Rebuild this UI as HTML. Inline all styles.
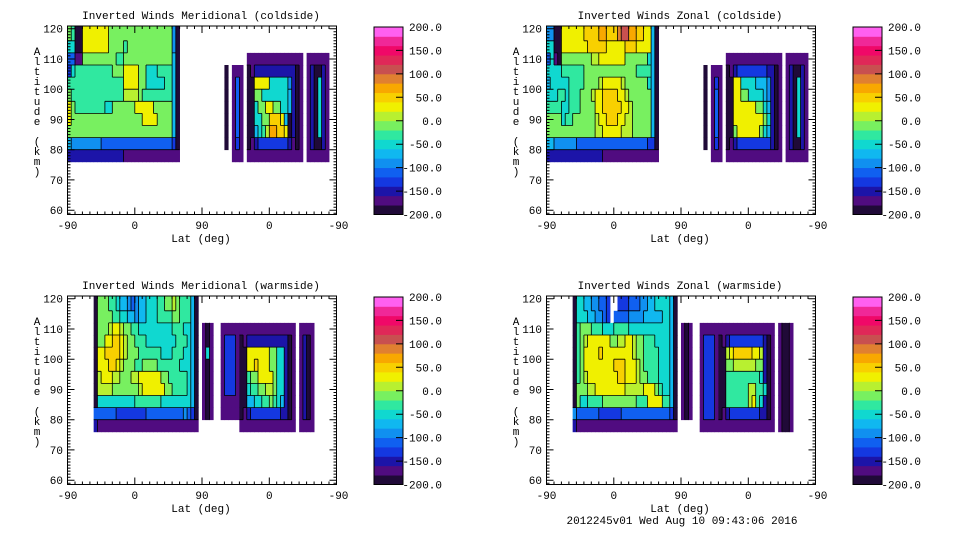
<!DOCTYPE html>
<html><head><meta charset="utf-8"><style>
html,body{margin:0;padding:0;background:#fff}
svg{display:block}
text{font-family:"Liberation Mono",monospace;font-size:11px;fill:#000}
</style></head><body>
<svg id="chart" width="960" height="540" viewBox="0 0 960 540" xmlns="http://www.w3.org/2000/svg">
<rect width="960" height="540" fill="#fff"/>
</svg>
<script>
// ---------- data (level chars: a=-200..-180 ... t=180..200, '.'=no data) ----------
const levelLabels = ['200.0','150.0','100.0','50.0','0.0','-50.0','-100.0','-150.0','-200.0'];
const altTicks = [120,110,100,90,80,70,60];
const latTickLabels = ['-90','0','90','0','-90'];
const levelColors = ['#200a38','#500c80','#1c14a8','#1438e0','#1060f0','#1090f0','#10b8f0','#10d8d0','#30e8a0','#78f060',
  '#b8f030','#f0f000','#f8d000','#f8a800','#e08030','#c85050','#e02858','#f00868','#f02898','#ff60f0'];

// Panel A: Meridional coldside
const coldMerMain = [
"jiaallllllljjjjjjjjjjjjjjjjjfa",
"hhaallllllljjjjijjjjjjjjjjjjfa",
"eebbjjjjjjjjjiijjjjjjjjjjjjjga",
"dhiiiiiiiiiijjjlllljjhhhiiiiga",
"iiiiiiiiiiiiiiilllljjhhhhhiiga",
"jiiiiiiiiiiiiiikkkkjiiiiiiiiga",
"ljiiiiiiiihhjjjjjjllllljjjjjga",
"ljjjjjjjjjjjjjjjjjjjlllljjjjga",
"jjjjjjjjjjjjjjjjjjjjjjjjjjjjga",
"gffffffffeeeeeeeeeeeeeeeeeeeda",
"cccccccccccccccbbbbbbbbbbbbbbb"];
const coldMerLine = ["a","a","a","a","a","a","a"];
const coldMerNarrow = ["bbb","beb","beb","beb","beb","beb","bdb","bbb"];
const coldMerBox = [
"bbbbbbbbbbbbbbb",
"abcccccccccccab",
"aallllhhhhhfcab",
"aajjhhhhhhhgcab",
"aahjjlljjhhgcab",
"aahhjjmmmlgacab",
"aaghiknnmmlacab",
"abcddddddddcbab",
"bbbbbbbbbbbbbbb"];
const coldMerEdge = ["bbbbbb","bcaacb","bcahcb","bcahcb","bcahcb","bcahcb","bcahcb","bcaacb","bbbbbb"];

// Panel B: Zonal coldside
const coldZonMain = [
"ffaallllllmmmmnnmmmoppnnmmllga",
"hhaalllllllmmmmmlllllmmmllllga",
"ehbajjjjjjjjkkllllllljjjjjjhga",
"hhhhiiiiiijjjjjjjjjjjjjjiiiiga",
"ghhhhhiiiijjjjklllllkjjjjjjhga",
"hhhiihiiijjjkllmmmmllkjjjjjjga",
"iiiihhiiijjjjllmmmmmllkjjjjjga",
"jjjjhiijjjjjjkllmmmllkkjjjjjga",
"jjjjjjjjjjjjjkklllllkkkjjjjjga",
"ggffffffeeeeeeeeeeeeeeeeeeedda",
"cccccccccccccccbbbbbbbbbbbbbbb"];
const coldZonLine = ["a","a","a","a","a","a","a"];
const coldZonNarrow = ["bbb","bdb","beb","beb","beb","beb","bdb","bbb"];
const coldZonBox = [
"bbbbbbbbbbbbbbb",
"abcddddddddccab",
"aallhhhhgggfcab",
"aalljjhhhhgfcab",
"aalllllljjhgcab",
"aalllllllljhcab",
"aajlllllljhgcab",
"abcdddddddddcab",
"bbbbbbbbbbbbbbb"];
const coldZonEdge = ["bbbbbb","bcaacb","bcahcb","bcahcb","bcahcb","bcahcb","bcahcb","bcaacb","bbbbbb"];

// Panel C: Meridional warmside
const warmMerMain = [
"ajjjiihggfefgghhhiijjkjiiiga",
"ajjjjiihhggfgghhhiiiijjiiiga",
"ajjjkllkjjiihhhhhhhhhiiihhga",
"ajjllmmlkjjiiihhhhhhhhiiihga",
"allmmmmlkjjjiiiiiihhhiiihhga",
"alllmmlkjjjiijjjjiiiiiihhhga",
"aklllkkjjjkklllllljjiiiiihga",
"akkkkjjjjjjjklllllljjiiiihga",
"ahhhhhhhhhhiiiiiiihhhhhhhhga",
"eeeeeeddddddddeeeeeeeeeefeda",
"cbbbbbbbbbbbbbbbbbbbbbbbbbbb"];
const warmMerThin = ["bab","bab","bhb","bab","bab","bab","bab","bab"];
const warmMerNarrow = ["bbbbb","bdddb","bdddb","bdddb","bdddb","bdddb","bbbbb","bbbbb"];
const warmMerBox = [
"bbbbbbbbbbbbbbb",
"abcccccccccccab",
"aalllllljjhhcab",
"aallmllljjhhcab",
"aaijjlllljhhcab",
"aahiijjkkjhhcab",
"aagghhiijihgcab",
"abcddddddddccab",
"bbbbbbbbbbbbbbb"];
const warmMerEdge = ["bbbb","bcab","bcab","bcab","bcab","bcab","bcab","bcab","bbbb"];

// Panel D: Zonal warmside
const warmZonMain = [
"ahhggffeed..dddeeeffgghhhhga",
"ahhhggffed.eeeeffffggggghhga",
"aijjjiiihhhiiiihhhhhhhhhhhga",
"aijklllllljjkkllkjjiiihhhhga",
"aijllllmllllllllkjjiiiihhhga",
"aijllllllllmmmlllkjiiiihhhga",
"aijkllllllllmmlllkjjiiihhhga",
"ajjjkkllllllllkkkkkllljihhga",
"ajhhiiiijjjjjjjjjiiilllliiga",
"feeeeeeddddddeeeeeeeeeeeeeda",
"cbbbbbbbbbbbbbbbbbbbbbbbbbbb"];
const warmZonThin = ["bab","bab","bab","bab","bab","bab","bab","bab"];
const warmZonNarrow = ["bbbbb","bdddb","bdddb","bdddb","bdddb","bdddb","bdddb","bdddb","bbbbb"];
const warmZonBox = [
"bbbbbbbbbbbbbbb",
"abcdddddddddcab",
"aaklmmmmmllkcab",
"aajjkkkkkkjjcab",
"aaiiiiiiiiihcab",
"aaiiiiiikkiihab",
"aaiiiiiiklihcab",
"abcddddddddccab",
"bbbbbbbbbbbbbbb"];
const warmZonEdge = ["baab","baab","baab","baab","baab","baab","baab","baab","baab"];

// block placement: [rows, startCol (5-deg units along 360-deg axis), startRow (4-km rows from 120 km)]
const panels = [
 {title:'Inverted Winds Meridional (coldside)', ox:0, oy:0, blocks:[[coldMerMain,0,0],[coldMerLine,42,3],[coldMerNarrow,44,3],[coldMerBox,48,2],[coldMerEdge,64,2]]},
 {title:'Inverted Winds Zonal (coldside)', ox:479, oy:0, blocks:[[coldZonMain,0,0],[coldZonLine,42,3],[coldZonNarrow,44,3],[coldZonBox,48,2],[coldZonEdge,64,2]]},
 {title:'Inverted Winds Meridional (warmside)', ox:0, oy:270, blocks:[[warmMerMain,7,0],[warmMerThin,36,2],[warmMerNarrow,41,2],[warmMerBox,46,2],[warmMerEdge,62,2]]},
 {title:'Inverted Winds Zonal (warmside)', ox:479, oy:270, blocks:[[warmZonMain,7,0],[warmZonThin,36,2],[warmZonNarrow,41,2],[warmZonBox,46,2],[warmZonEdge,62,2]]}
];
const panelNames = ['meridional-coldside','zonal-coldside','meridional-warmside','zonal-warmside'];

// ---------- drawing ----------
const NS='http://www.w3.org/2000/svg';
const svg=document.getElementById('chart');
function mk(tag,attrs,parent){const e=document.createElementNS(NS,tag);for(const k in attrs)e.setAttribute(k,attrs[k]);(parent||svg).appendChild(e);return e;}
const PX0=67.5, PW=269, FT=26, FB=214.5;
function xs(c){return PX0 + c/360*PW;}
function ys(alt){return 28.7 + (120-alt)*3.025;}
const CW = 5; const RH = 4;

panels.forEach((p,pi)=>{
  const g=mk('g',{transform:`translate(${p.ox},${p.oy})`});
  
  
  const t=mk('text',{x:201,y:19,'text-anchor':'middle'},g);
  t.textContent=p.title;
  
  
  const field=mk('g',{},g);
  
  
  const lines=[];
  p.blocks.forEach((b,bi)=>{
    const rows=b[0], c0=b[1], r0=b[2];
    const bg=mk('g',{},field);
    
    
    const lev=(r,c)=>{const s=rows[r];if(!s||c<0||c>=s.length)return -1;const ch=s[c];return ch==='.'?-1:ch.charCodeAt(0)-97;};
    rows.forEach((s,r)=>{
      for(let c=0;c<s.length;c++){
        const L=lev(r,c); if(L<0) continue;
        const col=c0+c, row=r0+r;
        const x1=xs(col*CW), x2=xs((col+1)*CW);
        const altTop=120-row*RH, altBot=altTop-RH;
        const y1= row===0?FT:ys(altTop), y2=ys(altBot);
        const cell=mk('rect',{x:x1.toFixed(2),y:y1.toFixed(2),width:(x2-x1+0.4).toFixed(2),height:(y2-y1+0.4).toFixed(2),fill:levelColors[Math.min(19,L)]},bg);
        
        
        const R=lev(r,c+1), B=lev(r+1,c);
        if(R>=0&&R!==L) lines.push([x2,y1,x2,y2]);
        if(B>=0&&B!==L) lines.push([x1,y2,x2,y2]);
      }
    });
  });
  const cl=mk('path',{d:lines.map(l=>`M${l[0].toFixed(1)} ${l[1].toFixed(1)}L${l[2].toFixed(1)} ${l[3].toFixed(1)}`).join(''),stroke:'#000','stroke-width':0.8,fill:'none'},g);
  
  

  const fr=mk('rect',{x:PX0,y:FT,width:PW,height:FB-FT,fill:'none',stroke:'#000','stroke-width':1},g);
  
  
  let tk='';
  for(let a=59;a<=120;a++){const y=ys(a);if(y<FT||y>FB)continue;const len=a%10===0?7:3;tk+=`M${PX0} ${y.toFixed(1)}h${len}M${PX0+PW} ${y.toFixed(1)}h${-len}`;}
  for(let d=0;d<=360;d+=10){const x=xs(d);const len=d%90===0?7:3;tk+=`M${x.toFixed(1)} ${FB}v${-len}M${x.toFixed(1)} ${FT}v${len}`;}
  const tp=mk('path',{d:tk,stroke:'#000','stroke-width':1,fill:'none'},g);
  
  
  altTicks.forEach(a=>{const e=mk('text',{x:63,y:ys(a)+4,'text-anchor':'end'},g);e.textContent=a;
    
    });
  latTickLabels.forEach((s,i)=>{const e=mk('text',{x:xs(i*90)+(i===4?2:0),y:229,'text-anchor':'middle'},g);e.textContent=s;
    
    });
  const xl=mk('text',{x:201,y:242,'text-anchor':'middle'},g);xl.textContent='Lat (deg)';
  
  
  const yl=mk('text',{x:37,'text-anchor':'middle'},g);
  
  
  'Altitude (km)'.split('').forEach((ch,i)=>{const ts=mk('tspan',{x:37,y:55+i*10},yl);ts.textContent=ch;});

  const cbx=374, cbw=29, cbt=27, cbb=214.5, bh=(cbb-cbt)/20;
  const cb=mk('g',{},g);
  
  
  levelColors.forEach((c,i)=>{const r=mk('rect',{x:cbx,y:(cbb-(i+1)*bh).toFixed(2),width:cbw,height:(bh+0.4).toFixed(2),fill:c},cb);
    
    });
  mk('rect',{x:cbx,y:cbt,width:cbw,height:cbb-cbt,fill:'none',stroke:'#000','stroke-width':1},cb);
  let ct='';
  levelLabels.forEach((s,i)=>{const y=cbt+i*(cbb-cbt)/8;if(i>0&&i<8)ct+=`M${cbx+cbw} ${y.toFixed(1)}h-7`;
    const e=mk('text',{x:442,y:y+4,'text-anchor':'end'},cb);e.textContent=s;
    
    });
  mk('path',{d:ct,stroke:'#000','stroke-width':1},cb);
});
const ft=mk('text',{x:682,y:524,'text-anchor':'middle'});
ft.textContent='2012245v01 Wed Aug 10 09:43:06 2016';


</script>
</body></html>
